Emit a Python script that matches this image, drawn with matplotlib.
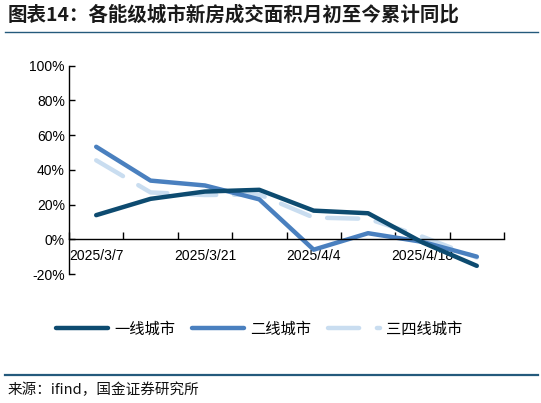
import numpy as np
import matplotlib
matplotlib.use('Agg')
import matplotlib.pyplot as plt
from matplotlib.lines import Line2D

plt.rcParams['font.family'] = ['Liberation Sans', 'Noto Sans CJK SC']

# weekly dates (category axis)
dates = ['2025/3/7', '2025/3/14', '2025/3/21', '2025/3/28',
         '2025/4/4', '2025/4/11', '2025/4/18', '2025/4/25']
# cumulative yoy, %
tier1 = [13.9, 23.3, 27.5, 28.5, 16.5, 15.0, -1.8, -15.3]
tier2 = [53.3, 33.8, 31.0, 23.0, -6.0, 3.5, -1.5, -10.0]
tier34 = [45.5, 27.0, 25.5, 25.8, 12.5, 11.8, 1.5, -10.5]
names = ['一线城市', '二线城市', '三四线城市']

c1 = '#0d4b70'
c2 = '#4a80bf'
c3 = '#c9ddf0'
rule_color = '#245a7c'
cjk = ['Noto Sans CJK SC', 'DejaVu Sans']

fig = plt.figure(figsize=(5.41, 4.03), dpi=100)
ax = fig.add_axes([69 / 541, 1 - 274 / 403, 435 / 541, (274 - 65.7) / 403])

x = np.arange(len(dates))
ax.plot(x, tier1, color=c1, lw=3.2, solid_capstyle='round', zorder=3)
ax.plot(x, tier2, color=c2, lw=3.2, solid_capstyle='round', zorder=2)
ax.plot(x, tier34, color=c3, lw=3.2, dashes=(7, 4), dash_capstyle='round', zorder=1)

ax.set_xlim(-0.5, len(dates) - 0.5)
ax.set_ylim(-20, 100)
ax.set_yticks(np.arange(-20, 101, 20))
ax.set_yticklabels([f'{v}%' for v in range(-20, 101, 20)], fontsize=10)

ax.set_xticks(x[::2])
ax.set_xticklabels(dates[::2], fontsize=10)
ax.set_xticks(np.arange(-0.5, len(dates), 1), minor=True)
ax.tick_params(axis='x', which='major', length=0, pad=7)
ax.tick_params(axis='x', which='minor', length=5, direction='in', width=1)
ax.tick_params(axis='y', length=4, direction='in', width=1, pad=3)

ax.spines['top'].set_visible(False)
ax.spines['right'].set_visible(False)
ax.spines['bottom'].set_position(('data', 0))
ax.spines['bottom'].set_linewidth(1)
ax.spines['left'].set_linewidth(1)

handles = [Line2D([], [], color=c1, lw=3.2, solid_capstyle='round'),
           Line2D([], [], color=c2, lw=3.2, solid_capstyle='round'),
           Line2D([], [], color=c3, lw=3.2, dashes=(7, 4), dash_capstyle='round')]
fig.legend(handles, names, loc='center', bbox_to_anchor=(259 / 541, 1 - 329 / 403),
           ncol=3, frameon=False, handlelength=3.4, handletextpad=0.4,
           columnspacing=1.1, prop={'family': cjk, 'size': 11})

# title, rules and source
fig.text(8 / 541, 1 - 15 / 403, '图表14：各能级城市新房成交面积月初至今累计同比',
         family=cjk, fontsize=14, fontweight='bold', color='#1a1a1a',
         ha='left', va='center')
fig.add_artist(Line2D([5 / 541, 538 / 541], [1 - 31.5 / 403] * 2, color=rule_color, lw=1))
fig.add_artist(Line2D([5 / 541, 538 / 541], [1 - 375 / 403] * 2, color=rule_color, lw=1.6))
fig.text(8 / 541, 1 - 390 / 403, '来源：ifind，国金证券研究所', family=cjk,
         fontsize=10.5, color='#111111', ha='left', va='center')

fig.savefig('out.png', dpi=100)
